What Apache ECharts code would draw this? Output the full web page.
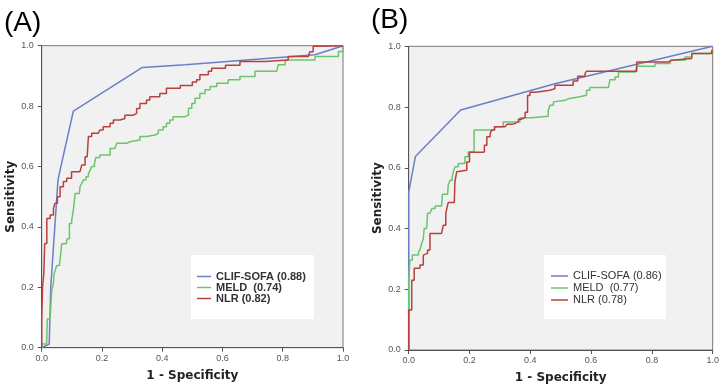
<!DOCTYPE html>
<html><head><meta charset="utf-8">
<script src="https://cdn.jsdelivr.net/npm/echarts@6/dist/echarts.min.js"></script>
<style>html,body{margin:0;padding:0;background:#fff}#c{width:722px;height:389px}</style>
</head><body><div id="c"></div>
<script>
const panelTitles = ['(A)', '(B)'];
const xAxisName = '1 - Specificity';
const yAxisName = 'Sensitivity';
const namesA = ['CLIF-SOFA (0.88)', 'MELD  (0.74)', 'NLR (0.82)'];
const namesB = ['CLIF-SOFA (0.86)', 'MELD  (0.77)', 'NLR (0.78)'];
const colors = ['#6b7fc6', '#6cc46c', '#b8403f'];

// Panel A
const clifA = [[0,0],[0.025,0.012],[0.03,0.2],[0.054,0.555],[0.061,0.588],[0.105,0.783],[0.334,0.928],[0.476,0.937],[0.907,0.97],[1,1]];
const meldA = [[0,0],[0,0.012],[0.0165,0.022],[0.0187,0.095],[0.0276,0.095],[0.0298,0.128],[0.0331,0.189],[0.0387,0.211],[0.041,0.244],[0.0476,0.25],[0.0498,0.272],[0.0587,0.277],[0.063,0.311],[0.0664,0.344],[0.081,0.35],[0.085,0.361],[0.092,0.411],[0.0995,0.422],[0.105,0.455],[0.111,0.511],[0.125,0.511],[0.127,0.533],[0.133,0.544],[0.138,0.555],[0.147,0.566],[0.155,0.577],[0.161,0.588],[0.166,0.6],[0.175,0.61],[0.18,0.63],[0.193,0.638],[0.227,0.66],[0.243,0.666],[0.249,0.677],[0.282,0.682],[0.293,0.688],[0.326,0.699],[0.348,0.704],[0.376,0.71],[0.387,0.721],[0.403,0.732],[0.414,0.743],[0.425,0.754],[0.436,0.765],[0.476,0.77],[0.487,0.793],[0.498,0.809],[0.509,0.826],[0.525,0.842],[0.542,0.854],[0.559,0.865],[0.581,0.876],[0.619,0.887],[0.658,0.898],[0.708,0.915],[0.78,0.92],[0.785,0.937],[0.808,0.953],[0.907,0.964],[0.985,0.981],[1,0.99],[1,1]];
const nlrA = [[0,0],[0,0.097],[0.003,0.202],[0.007,0.246],[0.01,0.345],[0.017,0.428],[0.028,0.439],[0.039,0.461],[0.044,0.478],[0.052,0.5],[0.061,0.533],[0.072,0.55],[0.083,0.561],[0.099,0.583],[0.127,0.583],[0.133,0.605],[0.144,0.632],[0.151,0.638],[0.155,0.699],[0.166,0.71],[0.188,0.71],[0.193,0.721],[0.204,0.732],[0.227,0.743],[0.238,0.754],[0.26,0.759],[0.276,0.77],[0.304,0.776],[0.315,0.792],[0.326,0.809],[0.348,0.82],[0.359,0.831],[0.392,0.842],[0.414,0.859],[0.46,0.868],[0.5,0.88],[0.514,0.887],[0.525,0.904],[0.553,0.915],[0.564,0.925],[0.61,0.935],[0.658,0.948],[0.741,0.953],[0.818,0.964],[0.885,0.97],[0.89,0.98],[0.901,0.998],[0.928,1],[1,1]];

// Panel B
const clifB = [[0,0],[0,0.52],[0.022,0.637],[0.171,0.79],[0.481,0.877],[1,1]];
const meldB = [[0,0],[0,0.23],[0.004,0.296],[0.012,0.3125],[0.032,0.323],[0.037,0.33],[0.043,0.351],[0.048,0.367],[0.051,0.4],[0.059,0.4],[0.062,0.45],[0.07,0.455],[0.076,0.466],[0.087,0.474],[0.108,0.474],[0.111,0.513],[0.128,0.513],[0.13,0.543],[0.136,0.559],[0.143,0.57],[0.147,0.587],[0.152,0.603],[0.163,0.614],[0.185,0.636],[0.196,0.652],[0.215,0.724],[0.282,0.724],[0.284,0.735],[0.311,0.751],[0.366,0.765],[0.404,0.77],[0.459,0.789],[0.465,0.806],[0.476,0.817],[0.481,0.822],[0.514,0.827],[0.525,0.833],[0.558,0.839],[0.585,0.855],[0.596,0.864],[0.657,0.866],[0.662,0.89],[0.679,0.899],[0.69,0.915],[0.745,0.921],[0.75,0.934],[0.81,0.943],[0.86,0.954],[0.909,0.965],[0.931,0.976],[0.99,0.981],[1,0.985]];
const nlrB = [[0,0],[0,0.132],[0.01,0.23],[0.018,0.269],[0.037,0.28],[0.048,0.3125],[0.054,0.318],[0.062,0.329],[0.07,0.384],[0.108,0.384],[0.114,0.411],[0.122,0.45],[0.128,0.455],[0.13,0.486],[0.15,0.488],[0.152,0.554],[0.158,0.587],[0.163,0.592],[0.191,0.619],[0.2,0.651],[0.242,0.652],[0.249,0.674],[0.257,0.702],[0.268,0.713],[0.273,0.724],[0.282,0.735],[0.317,0.735],[0.323,0.743],[0.339,0.746],[0.35,0.752],[0.361,0.76],[0.372,0.766],[0.383,0.783],[0.391,0.838],[0.399,0.849],[0.418,0.855],[0.464,0.86],[0.481,0.872],[0.541,0.886],[0.556,0.901],[0.58,0.91],[0.585,0.918],[0.75,0.918],[0.75,0.948],[0.854,0.954],[0.865,0.96],[0.931,0.976],[0.997,0.987],[1,0.987]];

const chart = echarts.init(document.getElementById('c'), null, {renderer: 'canvas'});
const tickFont = {fontSize: 9, color: '#555', fontFamily: 'Liberation Sans'};
const nameFont = {fontSize: 12, fontWeight: 'bold', color: '#222', fontFamily: 'DejaVu Sans'};
function xAx(i) {
  return {gridIndex: i, type: 'value', min: 0, max: 1, interval: 0.2,
    name: xAxisName, nameLocation: 'middle', nameGap: 22, nameTextStyle: nameFont,
    axisLine: {show: true, onZero: false, lineStyle: {color: '#555', width: 1}},
    axisTick: {show: true, length: 4, lineStyle: {color: '#555'}},
    axisLabel: Object.assign({margin: 6, formatter: v => v.toFixed(1)}, tickFont),
    splitLine: {show: false}};
}
function yAx(i) {
  return {gridIndex: i, type: 'value', min: 0, max: 1, interval: 0.2,
    name: yAxisName, nameLocation: 'middle', nameGap: 25, nameTextStyle: nameFont,
    axisLine: {show: true, onZero: false, lineStyle: {color: '#555', width: 1}},
    axisTick: {show: true, length: 4, lineStyle: {color: '#555'}},
    axisLabel: Object.assign({margin: 8, formatter: v => v.toFixed(1)}, tickFont),
    splitLine: {show: false}};
}
function ser(name, data, idx, color, step) {
  return {name: name, type: 'line', xAxisIndex: idx, yAxisIndex: idx, data: data,
    showSymbol: false, symbol: 'none', step: step ? 'end' : false, color: color,
    lineStyle: {color: color, width: 1.5}, animation: false, silent: true};
}
const option = {
  animation: false,
  title: [
    {text: panelTitles[0], left: 4, top: 9, padding: 0, textStyle: {fontSize: 28, fontWeight: 'normal', color: '#000', fontFamily: 'Liberation Sans'}},
    {text: panelTitles[1], left: 371, top: 6, padding: 0, textStyle: {fontSize: 28, fontWeight: 'normal', color: '#000', fontFamily: 'Liberation Sans'}}
  ],
  grid: [
    {left: 41.7, top: 45.7, width: 301.3, height: 302, show: true, backgroundColor: '#f1f1f1', borderColor: '#777', borderWidth: 1},
    {left: 408.7, top: 46.3, width: 304, height: 303.7, show: true, backgroundColor: '#f1f1f1', borderColor: '#777', borderWidth: 1}
  ],
  xAxis: [xAx(0), xAx(1)],
  yAxis: [yAx(0), yAx(1)],
  graphic: [
    {type: 'rect', shape: {x: 191, y: 255, width: 123, height: 64}, style: {fill: '#fff'}, z: 3, silent: true},
    {type: 'rect', shape: {x: 544, y: 255, width: 122, height: 64}, style: {fill: '#fff'}, z: 3, silent: true}
  ],
  legend: [
    {data: namesA, orient: 'vertical', left: 197, top: 271, padding: 0, itemGap: 0, itemWidth: 14, itemHeight: 1.5, icon: 'rect', selectedMode: false, z: 6,
     textStyle: {fontSize: 11, lineHeight: 11, fontWeight: 'bold', color: '#333', fontFamily: 'Liberation Sans'}},
    {data: namesB, orient: 'vertical', left: 551, top: 270, padding: 0, itemGap: 0, itemWidth: 17, itemHeight: 1.5, icon: 'rect', selectedMode: false, z: 6,
     textStyle: {fontSize: 11, lineHeight: 12, color: '#333', fontFamily: 'Liberation Sans'}}
  ],
  series: [
    ser(namesA[0], clifA, 0, colors[0], false),
    ser(namesA[1], meldA, 0, colors[1], true),
    ser(namesA[2], nlrA, 0, colors[2], true),
    ser(namesB[0], clifB, 1, colors[0], false),
    ser(namesB[1], meldB, 1, colors[1], true),
    ser(namesB[2], nlrB, 1, colors[2], true)
  ]
};
chart.setOption(option);
</script></body></html>
